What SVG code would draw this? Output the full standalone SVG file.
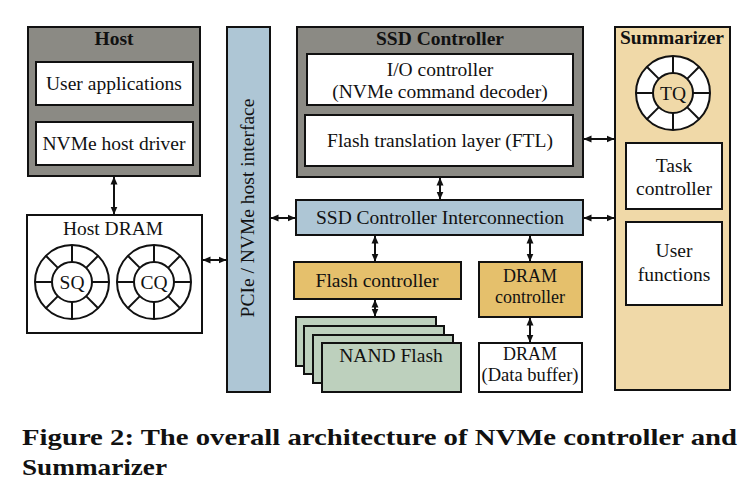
<svg xmlns="http://www.w3.org/2000/svg" xmlns:xlink="http://www.w3.org/1999/xlink" width="755" height="496" viewBox="0 0 755 496">
<style>
text{font-family:"Liberation Serif","Times New Roman",serif;fill:#111;}
.t{font-size:19.5px;text-anchor:middle;}
.s{font-size:18px;}
.b{font-weight:bold;}
.box{stroke:#111;stroke-width:2;}
.gray{fill:#8b8a84;}
.white{fill:#fff;}
.blue{fill:#aec6d5;}
.orange{fill:#e5c06c;}
.green{fill:#bdd0bd;}
.tan{fill:#f0d9a8;}
.conn line{stroke:#111;stroke-width:2;marker-start:url(#ah);marker-end:url(#ah);}
.cap{font-size:23px;font-weight:bold;}
</style>
<defs>
<marker id="ah" viewBox="0 0 8 8" refX="7.5" refY="4" markerWidth="8" markerHeight="8" markerUnits="userSpaceOnUse" orient="auto-start-reverse">
<path d="M0,0.5 L8,4 L0,7.5 z" fill="#111"/>
</marker>
<g id="ring">
<circle r="37" fill="#fff" stroke="#111" stroke-width="2"/>
<g stroke="#111" stroke-width="2">
<line x1="20" y1="0" x2="37" y2="0"/>
<line x1="-20" y1="0" x2="-37" y2="0"/>
<line x1="0" y1="20" x2="0" y2="37"/>
<line x1="0" y1="-20" x2="0" y2="-37"/>
<line x1="14.1" y1="14.1" x2="26.2" y2="26.2"/>
<line x1="-14.1" y1="14.1" x2="-26.2" y2="26.2"/>
<line x1="14.1" y1="-14.1" x2="26.2" y2="-26.2"/>
<line x1="-14.1" y1="-14.1" x2="-26.2" y2="-26.2"/>
</g>
</g>
</defs>
<rect width="755" height="496" fill="#fff"/>

<g id="host">
<rect class="box gray" x="28" y="27" width="172" height="149"/>
<text class="t b" x="114" y="45">Host</text>
</g>
<g id="user-applications">
<rect class="box white" x="36" y="62" width="157" height="43"/>
<text class="t" x="114" y="90">User applications</text>
</g>
<g id="nvme-host-driver">
<rect class="box white" x="36" y="122" width="157" height="43"/>
<text class="t" x="114" y="150">NVMe host driver</text>
</g>

<g id="host-dram">
<rect class="box white" x="27" y="215" width="175" height="118"/>
<text class="t" x="113" y="235">Host DRAM</text>
<use xlink:href="#ring" x="72" y="282"/>
<circle cx="72" cy="282" r="20" fill="#fff" stroke="#111" stroke-width="2"/>
<text class="t" x="72" y="289">SQ</text>
<use xlink:href="#ring" x="154" y="282"/>
<circle cx="154" cy="282" r="20" fill="#fff" stroke="#111" stroke-width="2"/>
<text class="t" x="154" y="289">CQ</text>
</g>

<g id="pcie">
<rect class="box blue" x="227" y="27" width="43" height="365"/>
<text class="t" transform="translate(254,208) rotate(-90)">PCIe / NVMe host interface</text>
</g>

<g id="ssd-controller">
<rect class="box gray" x="297" y="27" width="286" height="150"/>
<text class="t b" x="440" y="45">SSD Controller</text>
</g>
<g id="io-controller">
<rect class="box white" x="307" y="54" width="266" height="51"/>
<text class="t" x="440" y="76">I/O controller</text>
<text class="t" x="440" y="98">(NVMe command decoder)</text>
</g>
<g id="ftl">
<rect class="box white" x="305" y="115" width="268" height="51"/>
<text class="t" x="440" y="147">Flash translation layer (FTL)</text>
</g>

<g id="interconnection">
<rect class="box blue" x="296" y="200" width="287" height="35"/>
<text class="t" x="440" y="224">SSD Controller Interconnection</text>
</g>

<g id="flash-controller">
<rect class="box orange" x="294" y="262" width="167" height="37"/>
<text class="t" x="377" y="287">Flash controller</text>
</g>

<g id="nand-flash">
<rect class="box green" x="296" y="317" width="140" height="49"/>
<rect class="box green" x="304" y="326" width="140" height="48"/>
<rect class="box green" x="313" y="335" width="140" height="48"/>
<rect class="box green" x="322" y="343" width="139" height="49"/>
<text class="t" x="391" y="362">NAND Flash</text>
</g>

<g id="dram-controller">
<rect class="box orange" x="479" y="262" width="103" height="55"/>
<text class="t s" x="530" y="282">DRAM</text>
<text class="t s" x="530" y="303">controller</text>
</g>

<g id="dram">
<rect class="box white" x="479" y="343" width="103" height="49"/>
<text class="t s" x="530" y="360">DRAM</text>
<text class="t s" x="530" y="381" textLength="97" lengthAdjust="spacingAndGlyphs">(Data buffer)</text>
</g>

<g id="summarizer">
<rect class="box tan" x="615" y="27" width="115" height="363"/>
<text class="t b" x="672" y="44">Summarizer</text>
<use xlink:href="#ring" x="673" y="93"/>
<circle cx="673" cy="93" r="20" fill="#f0d9a8" stroke="#111" stroke-width="2"/>
<text class="t" x="673" y="100">TQ</text>
</g>
<g id="task-controller">
<rect class="box white" x="626" y="143" width="96" height="66"/>
<text class="t" x="674" y="172">Task</text>
<text class="t" x="674" y="195">controller</text>
</g>
<g id="user-functions">
<rect class="box white" x="626" y="222" width="96" height="83"/>
<text class="t" x="674" y="257">User</text>
<text class="t" x="674" y="281">functions</text>
</g>

<g id="connectors" class="conn">
<line x1="114" y1="177" x2="114" y2="214"/>
<line x1="203" y1="260" x2="226" y2="260"/>
<line x1="271" y1="218" x2="295" y2="218"/>
<line x1="440" y1="178" x2="440" y2="199"/>
<line x1="584" y1="139" x2="614" y2="139"/>
<line x1="584" y1="218" x2="614" y2="218"/>
<line x1="375" y1="236" x2="375" y2="261"/>
<line x1="375" y1="300" x2="375" y2="316"/>
<line x1="530" y1="236" x2="530" y2="261"/>
<line x1="530" y1="318" x2="530" y2="342"/>
</g>

<text class="cap" x="22" y="445" textLength="715" lengthAdjust="spacingAndGlyphs">Figure 2: The overall architecture of NVMe controller and</text>
<text class="cap" x="22" y="475" textLength="145" lengthAdjust="spacingAndGlyphs">Summarizer</text>
</svg>
